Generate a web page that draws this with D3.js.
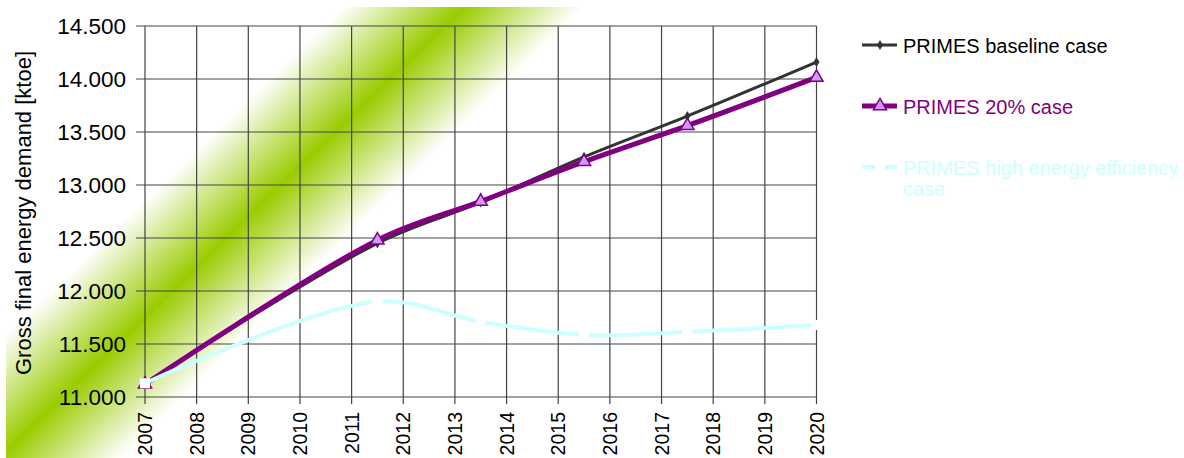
<!DOCTYPE html>
<html>
<head>
<meta charset="utf-8">
<script src="https://cdn.jsdelivr.net/npm/d3@7"></script>
<style>
  html, body { margin: 0; padding: 0; background: #ffffff; }
  svg { display: block; font-family: "Liberation Sans", Arial, sans-serif; }
</style>
</head>
<body>
<svg id="chart" width="1184" height="458"></svg>
<script>
// Projection years (data points of the PRIMES scenarios)
const years = [2007, 2011.5, 2013.5, 2015.5, 2017.5, 2020];

// Gross final energy demand, ktoe
const baseline = [11130, 12450, 12835, 13265, 13650, 14160];
const case20 = [11120, 12480, 12845, 13220, 13560, 14015];
const highEfficiency = [11130, 11900, 11710, 11585, 11615, 11680];

// Axis ticks
const xTicks = [2007, 2008, 2009, 2010, 2011, 2012, 2013, 2014, 2015, 2016, 2017, 2018, 2019, 2020];
const yTicks = [11000, 11500, 12000, 12500, 13000, 13500, 14000, 14500];

const seriesNames = ["PRIMES baseline case", "PRIMES 20% case", "PRIMES high energy efficiency", "case"];
const yTitle = "Gross final energy demand [ktoe]";

const svg = d3.select("#chart");
const W = 1184, H = 458;

const x = d3.scaleLinear().domain([2007, 2020]).range([145, 816.5]);
const y = d3.scaleLinear().domain([11000, 14500]).range([397, 26]);

const locale = d3.formatLocale({ decimal: ",", thousands: ".", grouping: [3], currency: ["", "€"] });
const fmt = locale.format(",d");

// Diagonal green band behind the chart
const defs = svg.append("defs");
const cx = 256, cy = 209;            // a point on the band's centre line
const nx = 1, ny = 1.03;             // normal direction of the band
const nl = Math.hypot(nx, ny);
const half = 84;
const grad = defs.append("linearGradient")
  .attr("id", "band")
  .attr("gradientUnits", "userSpaceOnUse")
  .attr("x1", cx - nx / nl * half).attr("y1", cy - ny / nl * half)
  .attr("x2", cx + nx / nl * half).attr("y2", cy + ny / nl * half);
grad.append("stop").attr("offset", 0).attr("stop-color", "#ffffff");
grad.append("stop").attr("offset", 0.5).attr("stop-color", "#99cc00");
grad.append("stop").attr("offset", 1).attr("stop-color", "#ffffff");

svg.append("rect").attr("x", 6).attr("y", 7).attr("width", W - 6).attr("height", H - 7)
  .attr("fill", "url(#band)");

// Grid
const grid = svg.append("g").attr("stroke", "#444444").attr("stroke-width", 1.2);
grid.selectAll("line.h").data(yTicks).join("line")
  .attr("class", "h")
  .attr("x1", x(2007) - 9).attr("x2", x(2020))
  .attr("y1", d => y(d)).attr("y2", d => y(d));
grid.selectAll("line.v").data(xTicks).join("line")
  .attr("class", "v")
  .attr("x1", d => x(d)).attr("x2", d => x(d))
  .attr("y1", y(14500)).attr("y2", y(11000) + 7);

// Axis labels
svg.append("g").selectAll("text").data(yTicks).join("text")
  .attr("x", 126).attr("y", d => y(d))
  .attr("text-anchor", "end").attr("dominant-baseline", "central")
  .attr("font-size", 22.5).attr("fill", "#000")
  .text(d => fmt(d));

svg.append("g").selectAll("text").data(xTicks).join("text")
  .attr("transform", d => `translate(${x(d)},412) rotate(-90)`)
  .attr("text-anchor", "end").attr("dominant-baseline", "central")
  .attr("font-size", 19.5).attr("fill", "#000")
  .text(d => d);

svg.append("text")
  .attr("transform", "translate(31,213) rotate(-90)")
  .attr("text-anchor", "middle")
  .attr("font-size", 22).attr("fill", "#000")
  .text(yTitle);

// Series
const line = d3.line()
  .x(d => x(d[0])).y(d => y(d[1]))
  .curve(d3.curveCatmullRom.alpha(0.5));

const zip = vals => years.map((yr, i) => [yr, vals[i]]);

const diamond = d3.symbol().type(d3.symbolDiamond).size(30);
const triangle = d3.symbol().type(d3.symbolTriangle).size(75);

// Baseline
svg.append("path").datum(zip(baseline))
  .attr("d", line).attr("fill", "none")
  .attr("stroke", "#333333").attr("stroke-width", 3);
svg.append("g").selectAll("path").data(zip(baseline)).join("path")
  .attr("transform", d => `translate(${x(d[0])},${y(d[1])})`)
  .attr("d", diamond).attr("fill", "#333333");

// 20% case
svg.append("path").datum(zip(case20))
  .attr("d", line).attr("fill", "none")
  .attr("stroke", "#800080").attr("stroke-width", 5);
svg.append("g").selectAll("path").data(zip(case20)).join("path")
  .attr("transform", d => `translate(${x(d[0])},${y(d[1])})`)
  .attr("d", triangle).attr("fill", "#cc99ff")
  .attr("stroke", "#800080").attr("stroke-width", 1.5);

// High energy efficiency case
svg.append("path").datum(zip(highEfficiency))
  .attr("d", line).attr("fill", "none")
  .attr("stroke", "#ccffff").attr("stroke-width", 4);
svg.append("g").selectAll("rect").data(zip(highEfficiency)).join("rect")
  .attr("x", d => x(d[0]) - 5).attr("y", d => y(d[1]) - 5)
  .attr("width", 10).attr("height", 10).attr("fill", "#ffffff");

// Legend
const lg = svg.append("g");
const lx1 = 862, lx2 = 897, lmid = 880, tx = 903;

lg.append("line").attr("x1", lx1).attr("x2", lx2).attr("y1", 45).attr("y2", 45)
  .attr("stroke", "#333333").attr("stroke-width", 3);
lg.append("path").attr("transform", `translate(${lmid},45)`).attr("d", diamond).attr("fill", "#333333");
lg.append("text").attr("x", tx).attr("y", 53).attr("font-size", 20).attr("fill", "#000000")
  .text(seriesNames[0]);

lg.append("line").attr("x1", lx1).attr("x2", lx2).attr("y1", 106).attr("y2", 106)
  .attr("stroke", "#800080").attr("stroke-width", 5);
lg.append("path").attr("transform", `translate(${lmid},106)`).attr("d", triangle)
  .attr("fill", "#cc99ff").attr("stroke", "#800080").attr("stroke-width", 1.5);
lg.append("text").attr("x", tx).attr("y", 114).attr("font-size", 20).attr("fill", "#800080")
  .text(seriesNames[1]);

lg.append("line").attr("x1", lx1).attr("x2", lx2).attr("y1", 167).attr("y2", 167)
  .attr("stroke", "#ccffff").attr("stroke-width", 4);
lg.append("rect").attr("x", lmid - 5).attr("y", 162).attr("width", 10).attr("height", 10).attr("fill", "#ffffff");
lg.append("text").attr("x", tx).attr("y", 175).attr("font-size", 20).attr("fill", "#ccffff")
  .text(seriesNames[2]);
lg.append("text").attr("x", tx).attr("y", 196).attr("font-size", 20).attr("fill", "#ccffff")
  .text(seriesNames[3]);
</script>
</body>
</html>
